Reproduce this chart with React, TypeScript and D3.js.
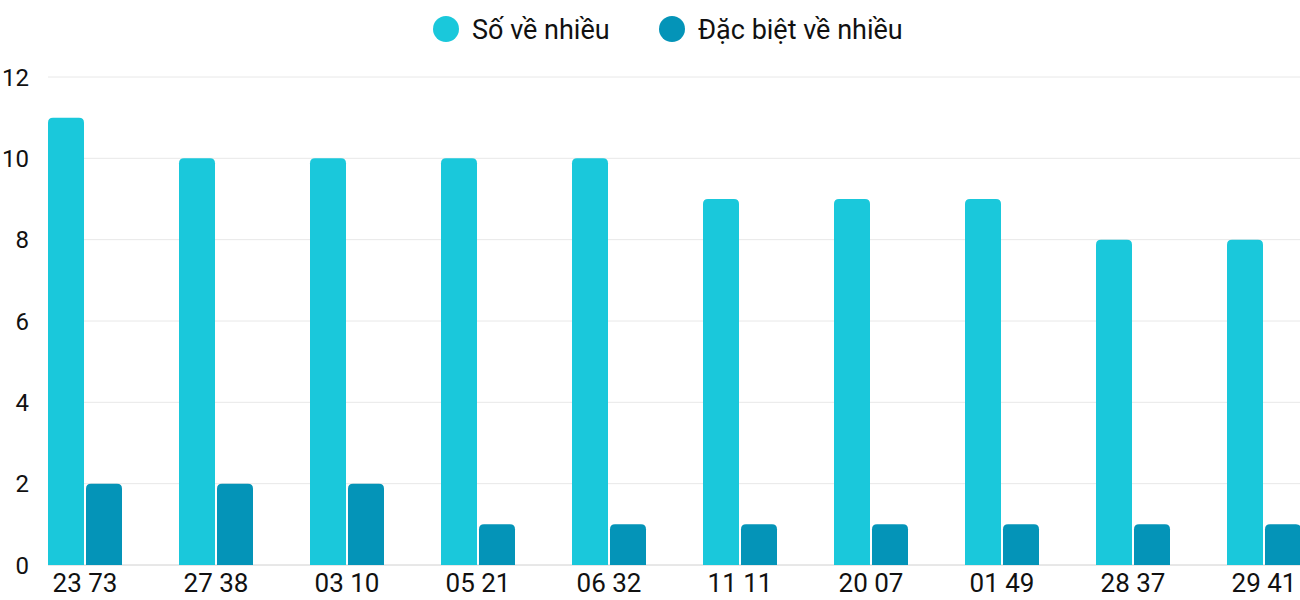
import React from "react";
import * as d3 from "d3";

const categories = ["23 73", "27 38", "03 10", "05 21", "06 32", "11 11", "20 07", "01 49", "28 37", "29 41"];
const seriesNames = ["Số về nhiều", "Đặc biệt về nhiều"];
const soVeNhieu = [11, 10, 10, 10, 10, 9, 9, 9, 8, 8];
const dacBietVeNhieu = [2, 2, 2, 1, 1, 1, 1, 1, 1, 1];
const yTicks = [0, 2, 4, 6, 8, 10, 12];
const colors = ["#1ac8db", "#0494b8"];

const W = 1300, H = 600;
const left = 48, right = 1301, top = 77, bottom = 565;

function topRounded(x: number, y: number, w: number, h: number, r: number) {
  const rr = Math.min(r, h, w / 2);
  return `M${x},${y + h}V${y + rr}Q${x},${y} ${x + rr},${y}H${x + w - rr}Q${x + w},${y} ${x + w},${y + rr}V${y + h}Z`;
}

export default function App() {
  const x0 = d3.scaleBand<string>().domain(categories).range([left, right]).paddingInner(57 / 131).paddingOuter(0);
  const x1 = d3.scaleBand<string>().domain(seriesNames).range([0, x0.bandwidth()]).paddingInner(2 / 38).paddingOuter(0);
  const y = d3.scaleLinear().domain([0, 12]).range([bottom, top]);
  const series = [soVeNhieu, dacBietVeNhieu];
  const font = "Roboto, 'Noto Sans', sans-serif";
  return (
    <svg width={W} height={H} style={{ position: "absolute", left: 0, top: 0, background: "#fff" }} fontFamily={font}>
      {yTicks.map((t) => (
        <g key={t}>
          <line x1={left} x2={1300} y1={y(t)} y2={y(t)} stroke={t === 0 ? "#d0d0d0" : "#e8e8e8"} strokeWidth={1} />
          <text x={29} y={y(t)} dy="0.36em" textAnchor="end" fontSize={24} fill="#111">{t}</text>
        </g>
      ))}
      {categories.map((c, i) => (
        <g key={c}>
          {series.map((s, k) => {
            const bx = (x0(c) as number) + (x1(seriesNames[k]) as number);
            const by = y(s[i]);
            return <path key={k} d={topRounded(bx, by, x1.bandwidth(), y(0) - by, 5)} fill={colors[k]} />;
          })}
          <text x={(x0(c) as number) + x0.bandwidth() / 2} y={592} textAnchor="middle" fontSize={26} fill="#111">{c}</text>
        </g>
      ))}
      {seriesNames.map((n, k) => {
        const cx = [446, 672][k];
        return (
          <g key={n}>
            <circle cx={cx} cy={29} r={13} fill={colors[k]} />
            <text x={cx + 26} y={29} dy="0.36em" fontSize={27} fill="#111">{n}</text>
          </g>
        );
      })}
    </svg>
  );
}
